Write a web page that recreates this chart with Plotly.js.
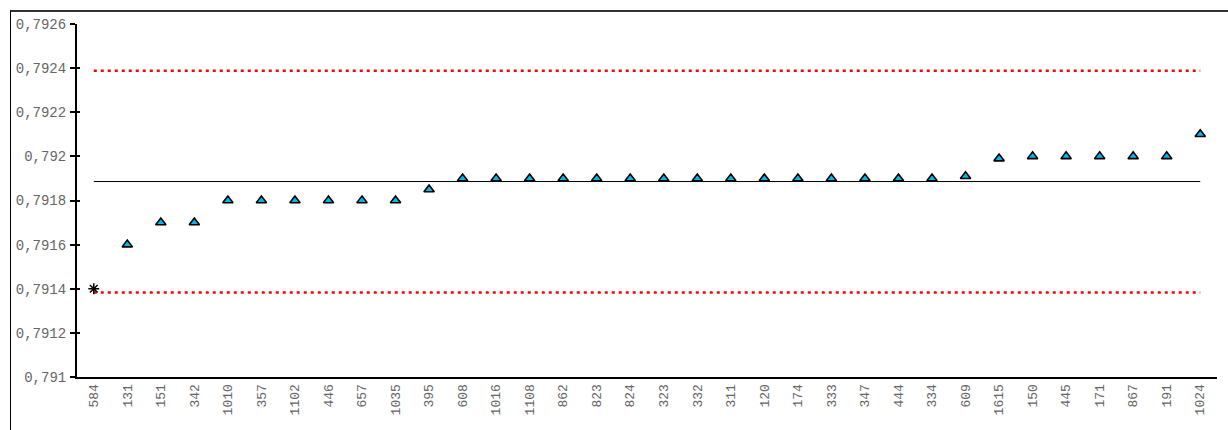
<!DOCTYPE html>
<html>
<head>
<meta charset="utf-8">
<script src="https://cdn.plot.ly/plotly-3.0.1.min.js"></script>
<style>
  html, body { margin:0; padding:0; background:#fff; }
  #frame { position:absolute; left:10px; top:10px; width:1240px; height:440px;
           border-left:1px solid #000; border-top:2px solid #333; box-sizing:border-box; }
  #chart { position:absolute; left:0; top:0; width:1228px; height:430px; }
</style>
</head>
<body>
<div id="frame"></div>
<div id="chart"></div>
<script>
// Categories (sample ids) in plotted order
const categories = ["584","131","151","342","1010","357","1102","446","657","1035","395",
  "608","1016","1108","862","823","824","323","332","311","120","174","333","347","444","334",
  "609","1615","150","445","171","867","191","1024"];
// Measured values (first one is the outlier shown with an asterisk)
const values = [0.7914,0.7916,0.7917,0.7917,0.7918,0.7918,0.7918,0.7918,0.7918,0.7918,0.79185,
  0.7919,0.7919,0.7919,0.7919,0.7919,0.7919,0.7919,0.7919,0.7919,0.7919,0.7919,0.7919,0.7919,0.7919,0.7919,
  0.79191,0.79199,0.792,0.792,0.792,0.792,0.792,0.7921];
const centerValue = 0.791886;
const upperLimit = 0.792388;
const lowerLimit = 0.791383;
const yTickVals = [0.791,0.7912,0.7914,0.7916,0.7918,0.792,0.7922,0.7924,0.7926];

const outlierIdx = [0];
const normalIdx = categories.map((c,i)=>i).filter(i=>!outlierIdx.includes(i));
const ends = [categories[0], categories[categories.length-1]];

const traces = [
  { x: ends, y: [upperLimit, upperLimit], mode:'lines', type:'scatter',
    line:{color:'#ff0000', width:2.5, dash:'3px,4px'}, hoverinfo:'skip' },
  { x: ends, y: [lowerLimit, lowerLimit], mode:'lines', type:'scatter',
    line:{color:'#ff0000', width:2.5, dash:'3px,4px'}, hoverinfo:'skip' },
  { x: ends, y: [centerValue, centerValue], mode:'lines', type:'scatter',
    line:{color:'#000000', width:1}, hoverinfo:'skip' },
  { x: normalIdx.map(i=>categories[i]), y: normalIdx.map(i=>values[i]), mode:'markers', type:'scatter',
    marker:{symbol:'triangle-up', size:9, color:'#00b8ee', line:{color:'#000', width:1.6}} },
  { x: outlierIdx.map(i=>categories[i]), y: outlierIdx.map(i=>values[i]), mode:'markers', type:'scatter',
    marker:{symbol:'asterisk-open', size:9, color:'#000', line:{color:'#000', width:1.5}} },
  { x: [categories[0]], y: [values[0]], yaxis:'y2', mode:'markers', type:'scatter',
    marker:{size:1, color:'rgba(0,0,0,0)'}, hoverinfo:'skip' }
];

const layout = {
  width:1228, height:430,
  margin:{l:77, r:11, t:24, b:53},
  paper_bgcolor:'rgba(0,0,0,0)', plot_bgcolor:'rgba(0,0,0,0)',
  showlegend:false,
  separators:', ',
  font:{family:'"Liberation Mono", monospace', size:13, color:'#666'},
  xaxis:{type:'category', categoryorder:'array', categoryarray:categories,
    range:[-0.5, categories.length-0.5], showgrid:false, zeroline:false,
    showline:true, linecolor:'#000', linewidth:2, ticks:'', tickangle:-90,
    tickfont:{family:'"Liberation Mono", monospace', size:13, color:'#666'}},
  yaxis:{range:[0.791,0.7926], tickvals:yTickVals, showgrid:false, zeroline:false,
    showline:true, linecolor:'#000', linewidth:2, ticks:'outside', ticklen:5, tickwidth:2, tickcolor:'#000',
    ticklabelstandoff:1,
    tickfont:{family:'"Liberation Mono", monospace', size:14, color:'#666'}},
  yaxis2:{overlaying:'y', side:'left', range:[0.791,0.7926], tickvals:yTickVals, showgrid:false,
    zeroline:false, showline:false, ticks:'inside', ticklen:3, tickwidth:2, tickcolor:'#000',
    showticklabels:false}
};

Plotly.newPlot('chart', traces, layout, {displayModeBar:false, staticPlot:true});
</script>
</body>
</html>
